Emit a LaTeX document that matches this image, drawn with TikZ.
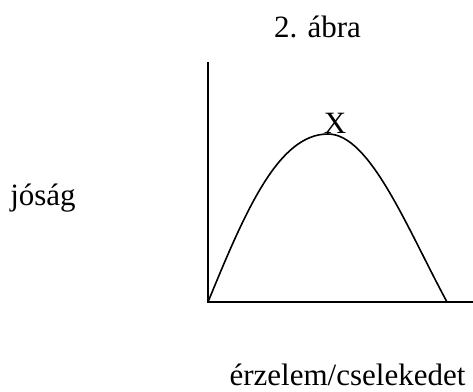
\documentclass[tikz,border=0pt]{standalone}
\usepackage{fontspec}
\setmainfont{Liberation Serif}
\usepackage{tikz}
\usetikzlibrary{calc}

\begin{document}
\begin{tikzpicture}[x=1pt, y=-1pt, line width=1.6pt,
    lbl/.style={font=\fontsize{31}{36}\selectfont, inner sep=0pt, anchor=base}]
    \useasboundingbox (0,0) rectangle (473,391);
    %% axes
    \coordinate (O) at (208, 302);
    \coordinate (T) at (208, 62);
    \coordinate (R) at (473, 302);
    \draw (T) -- (O) -- (R);
    %% curve: rise to the peak, then fall to the base line
    \coordinate (P) at (328, 134);
    \coordinate (E) at (447, 302);
    \draw (O) .. controls (245, 212) and (278, 134) .. (P)
              .. controls (370, 134) and (407, 228) .. (E);
    %% labels
    \node[lbl] (title) at (317.5, 37.5) {2. ábra};
    \node[lbl] (peak) at (335, 133) {X};
    \node[lbl] (yl) at (43, 205) {jóság};
    \node[lbl] (xl) at (347.5, 385) {érzelem/cselekedet};
\end{tikzpicture}
\end{document}
